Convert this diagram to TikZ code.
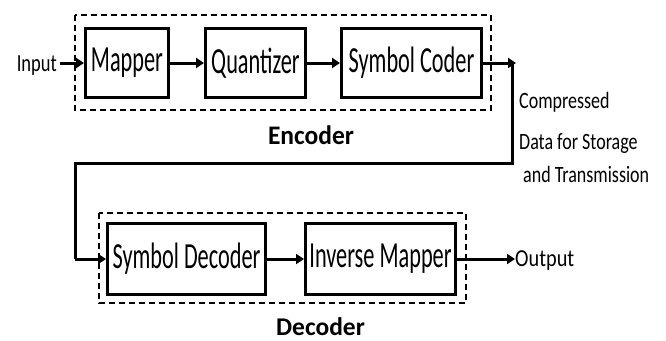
\documentclass[tikz,border=0pt]{standalone}
\usepackage{fontspec}
\setmainfont{Carlito}
\usetikzlibrary{arrows.meta, positioning}

% Calibri-like labels, drawn taller than wide
\newcommand{\tallt}[2][1.65]{\scalebox{1}[#1]{#2}}

\tikzset{
  block/.style={draw, line width=3pt, minimum height=69pt, inner sep=0pt,
                font=\fontsize{22.3}{24}\selectfont},
  frame/.style={draw, line width=1.4pt, dash pattern=on 6pt off 4pt},
  flow/.style={line width=3pt, -{Triangle[length=8pt, width=10pt]}},
  wire/.style={line width=3pt},
  note/.style={anchor=base west, inner sep=0pt, font=\fontsize{18}{20}\selectfont},
  caption/.style={anchor=base, inner sep=0pt, font=\fontsize{25.5}{28}\selectfont\bfseries},
}

\begin{document}
\begin{tikzpicture}[x=1pt, y=-1pt]
  \useasboundingbox (0,0) rectangle (666,340);

  \def\ye{63}    % encoder row
  \def\yd{259}   % decoder row

  % --- Encoder ---
  \draw[frame] (75,15) rectangle (491,110);
  \node[block, minimum width=83pt] (mapper) at (127,\ye) {\tallt{Mapper}};
  \node[block, minimum width=100pt] (quant) at (255.5,\ye) {\tallt{Quantizer}};
  \node[block, minimum width=140pt] (coder) at (411.5,\ye) {\tallt{Symbol Coder}};
  \node[caption] (enclbl) at (311,144) {\tallt[1.05]{Encoder}};

  \node[anchor=base east, inner sep=0pt, font=\fontsize{18.5}{20}\selectfont] (input) at (57,71.5)
    {\tallt[1.33]{Input}};
  \draw[flow] (input.east |- mapper.west) ++(3,0) -- (mapper.west);
  \draw[flow] (mapper) -- (quant);
  \draw[flow] (quant) -- (coder);

  % --- Channel ---
  \coordinate (tap) at (516,\ye);
  \coordinate (drop) at (512,\ye);
  \coordinate (bend) at (75,163);
  \draw[flow] (coder.east) -- (tap);
  \node[note] (chan1) at (519,108) {\tallt[1.3]{Compressed}};
  \node[note] (chan2) at (519,149) {\tallt[1.3]{Data for Storage}};
  \node[note] (chan3) at (523,182.3) {\tallt[1.3]{and Transmission}};

  % --- Decoder ---
  \draw[frame] (99,213) rectangle (466,303);
  \node[block, minimum width=158pt, minimum height=71pt] (sdec) at (186.5,\yd)
    {\tallt{Symbol Decoder}};
  \node[block, minimum width=150pt, minimum height=71pt] (invmap) at (380.5,\yd)
    {\tallt{Inverse Mapper}};
  \node[caption] (declbl) at (320.5,335.5) {Decoder};

  \draw[wire, line join=miter] (drop) |- (bend) -- (bend |- sdec.west);
  \draw[flow] (bend |- sdec.west) -- (sdec.west);
  \draw[flow] (sdec) -- (invmap);

  \node[anchor=base west, inner sep=0pt, font=\fontsize{20.3}{22}\selectfont] (output) at (515,266.5)
    {\tallt[1.2]{Output}};
  \draw[flow] (invmap.east) -- (output.west |- invmap.east);
\end{tikzpicture}
\end{document}
